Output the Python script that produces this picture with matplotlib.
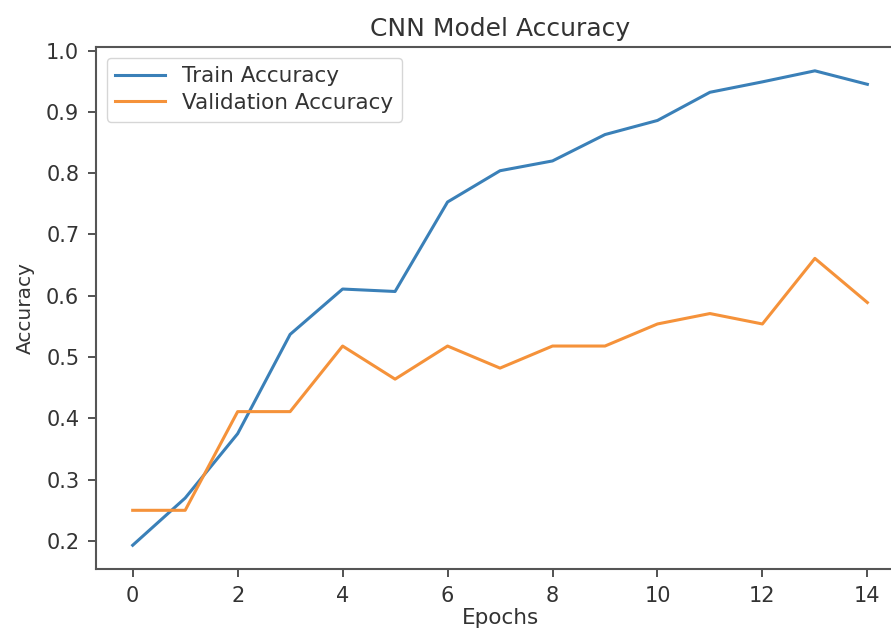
import numpy as np
import matplotlib.pyplot as plt

# accuracy per epoch
epochs = list(range(15))
train_acc = [0.193, 0.270, 0.375, 0.537, 0.611, 0.607, 0.753, 0.804,
             0.820, 0.863, 0.886, 0.932, 0.949, 0.967, 0.945]
val_acc = [0.250, 0.250, 0.411, 0.411, 0.518, 0.464, 0.518, 0.482,
           0.518, 0.518, 0.554, 0.571, 0.554, 0.661, 0.589]

fig = plt.figure(figsize=(8.91, 6.28), dpi=100)
# the original picture is cut off on the right, so the axes run past the edge
ax = fig.add_axes([0.1077, 0.094, 0.907, 0.831])

ax.plot(epochs, train_acc, color='#3a80b8', linewidth=2.2, label='Train Accuracy')
ax.plot(epochs, val_acc, color='#f5923a', linewidth=2.2, label='Validation Accuracy')

text_col = '#333333'
ax.set_title("CNN Model Accuracy", fontsize=18, color=text_col, pad=8)
ax.set_xlabel("Epochs", fontsize=15.5, color=text_col, labelpad=2)
ax.set_ylabel("Accuracy", fontsize=14.5, color=text_col, labelpad=8)
ax.set_xticks(range(0, 15, 2))
ax.set_yticks(np.arange(0.2, 1.01, 0.1))
ax.tick_params(labelsize=15, width=1.3, length=6, pad=6,
               color='#444444', labelcolor=text_col)
for s in ax.spines.values():
    s.set_linewidth(1.5)
    s.set_color('#555555')
ax.legend(loc='upper left', fontsize=15.5, labelspacing=0.3,
          handlelength=2.3, labelcolor=text_col)

fig.savefig("out.png", dpi=100)
